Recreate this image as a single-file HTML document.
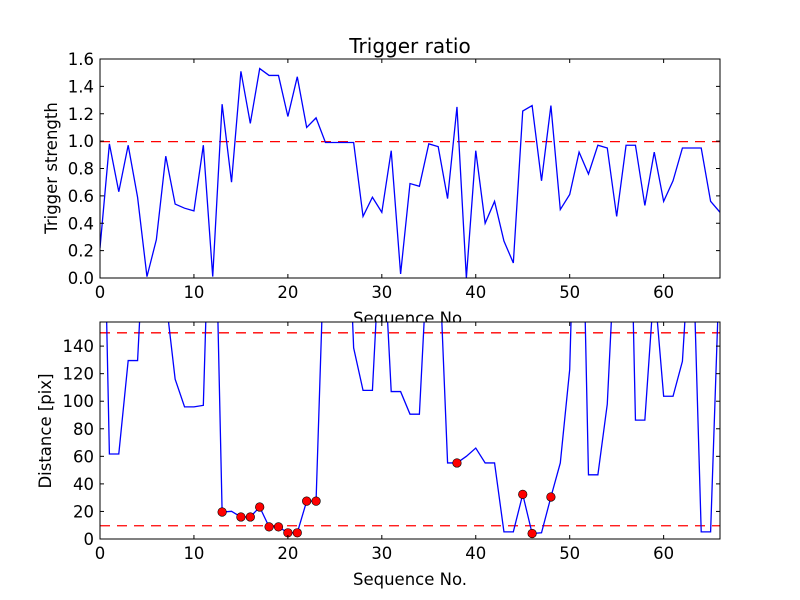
<!DOCTYPE html>
<html><head><meta charset="utf-8"><style>body{margin:0;background:#fff}svg{display:block;font-family:"DejaVu Sans","Liberation Sans",sans-serif}</style></head>
<body>
<svg id="chart" width="800" height="600" viewBox="0 0 800 600"></svg>
<script>
const seqIndex = Array.from({length:67},(_, i)=>i);
const ratioValues = [0.22,0.98,0.63,0.97,0.59,0.01,0.28,0.89,0.54,0.51,0.49,0.97,0.01,1.27,0.70,1.51,1.13,1.53,1.48,1.48,1.18,1.47,1.10,1.17,0.99,0.99,0.99,0.99,0.45,0.59,0.48,0.93,0.03,0.69,0.67,0.98,0.96,0.58,1.25,0.0,0.93,0.40,0.56,0.27,0.11,1.22,1.26,0.71,1.26,0.50,0.61,0.92,0.76,0.97,0.95,0.45,0.97,0.97,0.53,0.92,0.56,0.71,0.95,0.95,0.95,0.56,0.48];
const distValues = [392,61.7,61.7,129.5,129.5,263,260,175,116,95.9,95.9,97,330,19.6,20.1,16,16,23.2,8.8,8.8,4.5,4.5,27.5,27.5,240,250,310,138.7,107.9,107.9,240,107,107,90.6,90.6,224,223,55.2,55.2,60,66,55.2,55.2,5.2,5.2,32.4,4,4.5,30.5,55.2,123,369,46.6,46.6,97.8,237,400,86.3,86.3,185,103.6,103.6,129,240,5.2,5.2,208];
const markerIdx = [13,15,16,17,18,19,20,21,22,23,38,45,46,48];
const ratioThreshold = [1.0];
const distThresholds = [150,10];
const xTicks = [0,10,20,30,40,50,60];
const ratioTicks = [0,0.2,0.4,0.6,0.8,1.0,1.2,1.4,1.6];
const distTicks = [0,20,40,60,80,100,120,140];

const svg=document.getElementById('chart');
const NS='http://www.w3.org/2000/svg';
function mk(tag,attrs,parent,text){const e=document.createElementNS(NS,tag);for(const k in attrs)e.setAttribute(k,attrs[k]);if(text!==undefined)e.textContent=text;(parent||svg).appendChild(e);return e;}
const L=100,R=720;
const xS=v=>L+(v/66)*(R-L);
function panel(name,top,bot,ymax,vals,ticks,fmt,thr,withMarkers){
  const yS=v=>bot-(v/ymax)*(bot-top);
  const g=mk('g',{},svg);
  
  mk('rect',{x:L,y:top,width:R-L,height:bot-top,fill:'#fff'},g);
  const cid=name+'-clip';
  const cp=mk('clipPath',{id:cid},g);mk('rect',{x:L,y:top,width:R-L,height:bot-top},cp);
  thr.forEach(t=>{const l=mk('line',{x1:L,x2:R,y1:yS(t)+0.5,y2:yS(t)+0.5,stroke:'#ff0000','stroke-dasharray':'10,7','stroke-width':1.3},g);
    });
  const pts=seqIndex.map(i=>xS(i).toFixed(2)+','+yS(vals[i]).toFixed(2)).join(' ');
  const pl=mk('polyline',{points:pts,fill:'none',stroke:'#0000ff','stroke-width':1.3,'clip-path':'url(#'+cid+')'},g);
  
  if(withMarkers){markerIdx.forEach(i=>{const c=mk('circle',{cx:xS(i),cy:yS(vals[i]),r:4.3,fill:'#ff0000',stroke:'#000','stroke-width':0.6},g);
    });}
  mk('rect',{x:L,y:top,width:R-L,height:bot-top,fill:'none',stroke:'#000','stroke-width':1},g);
  xTicks.forEach(t=>{const x=xS(t);mk('line',{x1:x,x2:x,y1:bot,y2:bot-4,stroke:'#000'},g);mk('line',{x1:x,x2:x,y1:top,y2:top+4,stroke:'#000'},g);
    const tx=mk('text',{x:x,y:bot+20,'text-anchor':'middle','font-size':16.5},g,String(t));});
  ticks.forEach(t=>{const y=yS(t);mk('line',{x1:L,x2:L+4,y1:y,y2:y,stroke:'#000'},g);mk('line',{x1:R,x2:R-4,y1:y,y2:y,stroke:'#000'},g);
    const tx=mk('text',{x:L-6,y:y+6,'text-anchor':'end','font-size':16.5},g,fmt(t));});
  return g;
}
let t=mk('text',{x:410,y:53,'text-anchor':'middle','font-size':20},svg,'Trigger ratio');

panel('ratio',59,278,1.6,ratioValues,ratioTicks,v=>v.toFixed(1),ratioThreshold,false);
t=mk('text',{x:410,y:324,'text-anchor':'middle','font-size':16.5},svg,'Sequence No.');

t=mk('text',{x:57,y:168,'text-anchor':'middle','font-size':16.5,transform:'rotate(-90 57 168)'},svg,'Trigger strength');

panel('distance',322,539,157.5,distValues,distTicks,v=>String(v),distThresholds,true);
t=mk('text',{x:410,y:585,'text-anchor':'middle','font-size':16.5},svg,'Sequence No.');

t=mk('text',{x:51,y:431,'text-anchor':'middle','font-size':16.5,transform:'rotate(-90 51 431)'},svg,'Distance [pix]');

</script>
</body></html>
